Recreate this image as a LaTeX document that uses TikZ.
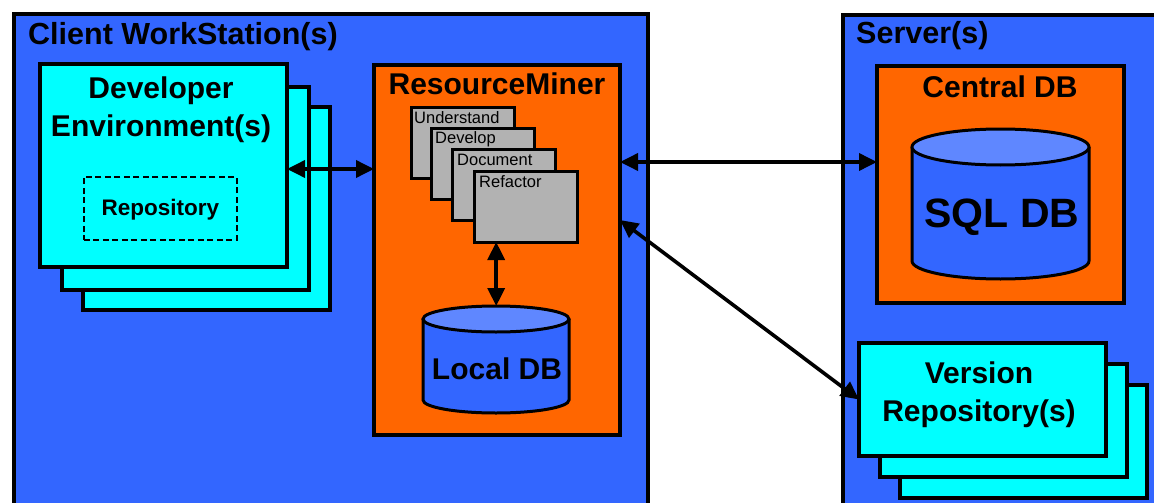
\documentclass[tikz,border=0pt]{standalone}
\usepackage{fontspec}
\setmainfont{Liberation Sans}
\usetikzlibrary{arrows.meta}
\definecolor{panelblue}{HTML}{3366FF}
\definecolor{minerorange}{HTML}{FF6600}
\definecolor{envcyan}{HTML}{00FFFF}
\definecolor{toolgrey}{HTML}{B2B2B2}
\definecolor{dbtop}{HTML}{5F87FF}

\begin{document}
\begin{tikzpicture}[x=1pt,y=-1pt,
  framebox/.style={rectangle, draw=black, line width=3.6pt, anchor=north west, inner sep=0pt, outer sep=0pt},
  panel/.style={framebox, fill=panelblue},
  miner/.style={framebox, fill=minerorange},
  envbox/.style={framebox, fill=envcyan},
  toolbox/.style={framebox, fill=toolgrey, line width=3pt, minimum width=103pt, minimum height=71pt},
  repobox/.style={rectangle, draw=black, line width=1.8pt, dash pattern=on 6pt off 3.5pt, anchor=north west, inner sep=0pt,
                  font=\fontsize{22.5}{27}\selectfont\bfseries},
  bigtitle/.style={inner sep=0pt, font=\fontsize{30}{38}\selectfont\bfseries, align=center},
  paneltitle/.style={inner sep=0pt, anchor=base west, font=\fontsize{30.5}{36}\selectfont\bfseries},
  toollabel/.style={inner sep=0pt, anchor=base west, font=\fontsize{16.5}{20}\selectfont},
  dbbody/.style={fill=panelblue},
  dbline/.style={draw=black, line width=3pt},
  biarrow/.style={line width=3.6pt, {Triangle[length=18pt,width=17pt]}-{Triangle[length=18pt,width=17pt]}}
]
\clip (0,0) rectangle (1154,503);
\fill[white] (0,0) rectangle (1154,503);

% ---- client workstation panel ----
\node[panel, minimum width=634pt, minimum height=520pt] (client) at (14,14) {};
\node[paneltitle] (clienttitle) at (28,45) {Client WorkStation(s)};

% developer environment stack
\node[envbox, minimum width=247pt, minimum height=203pt] (dev3) at (83,107) {};
\node[envbox, minimum width=247pt, minimum height=203pt] (dev2) at (62,87) {};
\node[envbox, minimum width=247pt, minimum height=203pt] (dev) at (40,64) {};
\node[bigtitle, anchor=north] (devtitle) at (161,77) {Developer\\Environment(s)};
\node[repobox, minimum width=153pt, minimum height=63pt, text height=17pt, text depth=2pt] (repo) at (83,176) {Repository};

% ResourceMiner
\node[miner, minimum width=246pt, minimum height=370pt] (rm) at (374,65) {};
\node[bigtitle, anchor=base] (rmtitle) at (497,94) {ResourceMiner};

\node[toolbox] (understand) at (411,107) {};
\node[toollabel] (understandlbl) at (414,123) {Understand};
\node[toolbox] (develop) at (431,128) {};
\node[toollabel] (developlbl) at (435,143) {Develop};
\node[toolbox] (document) at (452,149) {};
\node[toollabel] (documentlbl) at (457,165) {Document};
\node[toolbox] (refactor) at (474,171) {};
\node[toollabel] (refactorlbl) at (479,187) {Refactor};

% local database cylinder
\fill[dbbody] (423,319) -- (423,400) arc[start angle=180, end angle=0, x radius=73, y radius=13] -- (569,319) -- cycle;
\draw[dbline] (423,319) -- (423,400) arc[start angle=180, end angle=0, x radius=73, y radius=13] -- (569,319);
\filldraw[dbline, fill=dbtop] (496,319) ellipse [x radius=73, y radius=13];
\node[rectangle, inner sep=0pt, anchor=north west, minimum width=146pt, minimum height=107pt] (ldb) at (423,306) {};
\node[bigtitle, anchor=base] (ldbtitle) at (497,379) {Local DB};

% ---- server panel ----
\node[panel, minimum width=340pt, minimum height=520pt] (server) at (843,15) {};
\node[paneltitle] (servertitle) at (856,44) {Server(s)};

\node[miner, minimum width=247pt, minimum height=237pt] (cdb) at (877,66) {};
\node[bigtitle, anchor=base] (cdbtitle) at (1000,97) {Central DB};

% SQL database cylinder
\fill[dbbody] (912,147) -- (912,261) arc[start angle=180, end angle=0, x radius=88.5, y radius=18] -- (1089,147) -- cycle;
\draw[dbline] (912,147) -- (912,261) arc[start angle=180, end angle=0, x radius=88.5, y radius=18] -- (1089,147);
\filldraw[dbline, fill=dbtop] (1000.5,147) ellipse [x radius=88.5, y radius=18];
\node[rectangle, inner sep=0pt, anchor=north west, minimum width=177pt, minimum height=150pt] (sqldb) at (912,129) {};
\node[bigtitle, anchor=base, font=\fontsize{41}{48}\selectfont\bfseries] (sqltitle) at (1002,227) {SQL DB};

% version repository stack
\node[envbox, minimum width=247pt, minimum height=113pt] (vr3) at (900,385) {};
\node[envbox, minimum width=247pt, minimum height=113pt] (vr2) at (880,364) {};
\node[envbox, minimum width=247pt, minimum height=113pt] (vr) at (859,343) {};
\node[bigtitle, anchor=north] (vrtitle) at (979,362) {Version\\Repository(s)};

% ---- connectors ----
\draw[biarrow] ([yshift=-3.5pt]dev.east) -- ([yshift=-3.5pt]dev.east -| rm.west);
\draw[biarrow] ([yshift=22.5pt]cdb.west -| rm.east) -- ([yshift=22.5pt]cdb.west);
\draw[biarrow] ([yshift=30pt]rm.east) -- (vr.west);
\draw[biarrow] (ldb.north |- refactor.south) -- (ldb.north);
\end{tikzpicture}
\end{document}
